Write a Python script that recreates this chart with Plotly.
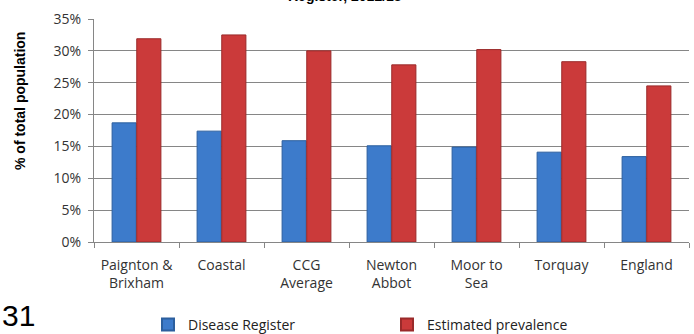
import plotly.graph_objects as go

categories = ["Paignton &<br>Brixham", "Coastal", "CCG<br>Average", "Newton<br>Abbot", "Moor to<br>Sea", "Torquay", "England"]
disease_register = [18.7, 17.4, 15.9, 15.1, 14.9, 14.1, 13.4]
estimated_prevalence = [31.9, 32.5, 30.0, 27.8, 30.2, 28.3, 24.5]
y_ticks = [0, 5, 10, 15, 20, 25, 30, 35]
y_tick_labels = [f"{v}%" for v in y_ticks]

W, H = 694, 334
L, R, T, B = 94, 5, 19, 92
PW, PH = W - L - R, H - T - B

def px_x(x):
    return (x - L) / PW

def px_y(y):
    return (H - B - y) / PH

fig = go.Figure()
fig.add_trace(go.Bar(
    x=categories, y=disease_register, name="Disease Register",
    marker=dict(color="#3D7BCB", line=dict(color="#2C5F9E", width=1)),
))
fig.add_trace(go.Bar(
    x=categories, y=estimated_prevalence, name="Estimated prevalence",
    marker=dict(color="#CB3A3A", line=dict(color="#9A2A2A", width=1)),
))

font_main = "Open Sans"
fig.update_layout(
    width=W, height=H,
    margin=dict(l=L, r=R, t=T, b=B, autoexpand=False),
    paper_bgcolor="white", plot_bgcolor="white",
    barmode="group", bargap=0.42, bargroupgap=0.02,
    showlegend=True,
    legend=dict(orientation="h", x=px_x(148), y=px_y(325),
                xanchor="left", yanchor="middle",
                entrywidth=194, entrywidthmode="pixels",
                font=dict(family=font_main, size=14, color="#222222"),
                bgcolor="rgba(0,0,0,0)", itemsizing="constant"),
    font=dict(family=font_main, size=13, color="#404040"),
)
fig.update_xaxes(
    type="category", tickson="boundaries", ticks="outside", ticklen=5,
    tickcolor="#868686", showline=True, linecolor="#868686", linewidth=1,
    showgrid=False, ticklabelstandoff=10,
    tickfont=dict(family=font_main, size=14, color="#333333"),
)
fig.update_yaxes(
    range=[0, 35], tickvals=y_ticks, ticktext=y_tick_labels,
    ticks="outside", ticklen=5, tickcolor="#868686",
    showline=True, linecolor="#868686", linewidth=1,
    showgrid=True, gridcolor="#868686", gridwidth=1, zeroline=False,
    ticklabelstandoff=4,
    tickfont=dict(family=font_main, size=14, color="#333333"),
)

fig.add_annotation(
    text="<b>% of total population</b>", xref="paper", yref="paper",
    x=px_x(20), y=px_y(101), xanchor="center", yanchor="middle",
    textangle=-90, showarrow=False,
    font=dict(family="Liberation Sans", size=14, color="#000000"),
)
fig.add_annotation(
    text="<b>Register, 2012/13</b>", xref="paper", yref="paper",
    x=px_x(345), y=px_y(6), xanchor="center", yanchor="bottom",
    showarrow=False, font=dict(family="Liberation Sans", size=14, color="#000000"),
)
fig.add_annotation(
    text="31", xref="paper", yref="paper",
    x=px_x(0), y=px_y(315), xanchor="left", yanchor="middle",
    showarrow=False, font=dict(family="Liberation Sans", size=30, color="#000000"),
)

fig.write_html("out.html", config={"displayModeBar": False},
               post_script="document.body.style.margin='0';")
